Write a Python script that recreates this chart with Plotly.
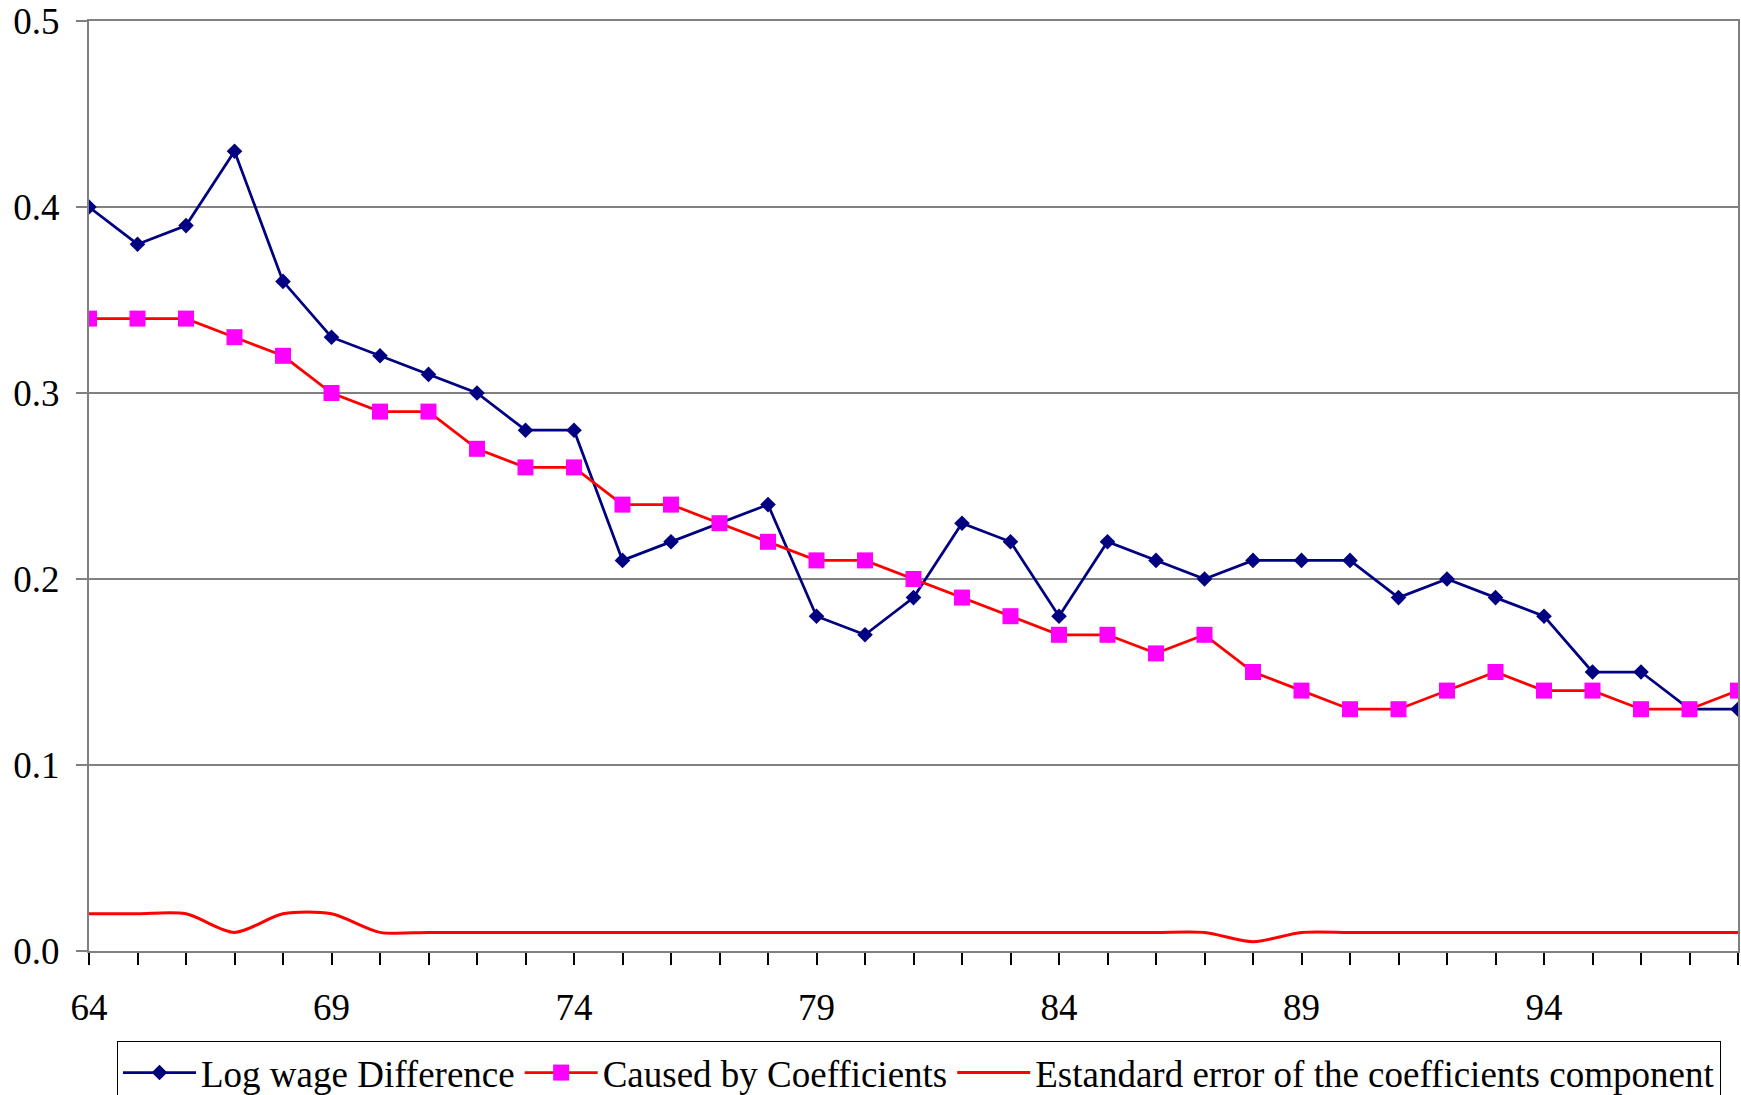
import plotly.graph_objects as go

# years on the x axis (two-digit)
years = list(range(64, 99))
log_wage_diff = [0.40, 0.38, 0.39, 0.43, 0.36, 0.33, 0.32, 0.31, 0.30, 0.28,
                 0.28, 0.21, 0.22, 0.23, 0.24, 0.18, 0.17, 0.19, 0.23, 0.22,
                 0.18, 0.22, 0.21, 0.20, 0.21, 0.21, 0.21, 0.19, 0.20, 0.19,
                 0.18, 0.15, 0.15, 0.13, 0.13]
caused_coef = [0.34, 0.34, 0.34, 0.33, 0.32, 0.30, 0.29, 0.29, 0.27, 0.26,
               0.26, 0.24, 0.24, 0.23, 0.22, 0.21, 0.21, 0.20, 0.19, 0.18,
               0.17, 0.17, 0.16, 0.17, 0.15, 0.14, 0.13, 0.13, 0.14, 0.15,
               0.14, 0.14, 0.13, 0.13, 0.14]
std_err = [0.02, 0.02, 0.02, 0.01, 0.02, 0.02, 0.01, 0.01, 0.01, 0.01,
           0.01, 0.01, 0.01, 0.01, 0.01, 0.01, 0.01, 0.01, 0.01, 0.01,
           0.01, 0.01, 0.01, 0.01, 0.005, 0.01, 0.01, 0.01, 0.01, 0.01,
           0.01, 0.01, 0.01, 0.01, 0.01]
tick_text = [str(y) if (y - 64) % 5 == 0 else "" for y in years]
y_ticks = [0.0, 0.1, 0.2, 0.3, 0.4, 0.5]

fnt = "Liberation Serif, Times New Roman, serif"

fig = go.Figure()
fig.add_trace(go.Scatter(x=years, y=log_wage_diff, name="Log wage Difference",
                         mode="lines+markers",
                         line=dict(color="#000080", width=2.75),
                         marker=dict(symbol="diamond", size=12, color="#000080")))
fig.add_trace(go.Scatter(x=years, y=caused_coef, name="Caused by Coefficients",
                         mode="lines+markers",
                         line=dict(color="#FF0000", width=2.75),
                         marker=dict(symbol="square", size=16, color="#FF00FF")))
fig.add_trace(go.Scatter(x=years, y=std_err,
                         name="Estandard error of the coefficients component",
                         mode="lines",
                         line=dict(color="#FF0000", width=3, shape="spline", smoothing=0.8)))

fig.update_xaxes(range=[64, 98], tickvals=years, ticktext=tick_text,
                 ticks="outside", ticklen=12, tickwidth=1.5, tickcolor="black",
                 showline=True, linecolor="#808080", linewidth=2, mirror=True,
                 showgrid=False, zeroline=False, ticklabelstandoff=11, automargin=False,
                 tickfont=dict(family=fnt, size=37, color="black"))
fig.update_yaxes(range=[0, 0.5], tickvals=y_ticks, tickformat=".1f",
                 ticks="outside", ticklen=11, tickwidth=1.5, tickcolor="#808080",
                 showline=True, linecolor="#808080", linewidth=2, mirror=True,
                 showgrid=True, gridcolor="#808080", gridwidth=2, zeroline=False,
                 ticklabelstandoff=9, automargin=False, ticklabeloverflow="allow",
                 tickfont=dict(family=fnt, size=37, color="black"))

fig.update_layout(
    width=1741, height=1095,
    margin=dict(l=89, r=3, t=21, b=144),
    plot_bgcolor="white", paper_bgcolor="white",
    font=dict(family=fnt, size=37, color="black"),
    legend=dict(orientation="h", xref="container", yref="container",
                x=0.0672, y=0.0493, xanchor="left", yanchor="top",
                bordercolor="black", borderwidth=1, bgcolor="white",
                font=dict(family=fnt, size=37, color="black"),
                itemwidth=73, tracegroupgap=0),
    showlegend=True,
)

# drop the default 8px body margin so the figure fills the window exactly
fig.write_html("out.html", config={"displayModeBar": False},
               post_script="document.body.style.margin='0';")
